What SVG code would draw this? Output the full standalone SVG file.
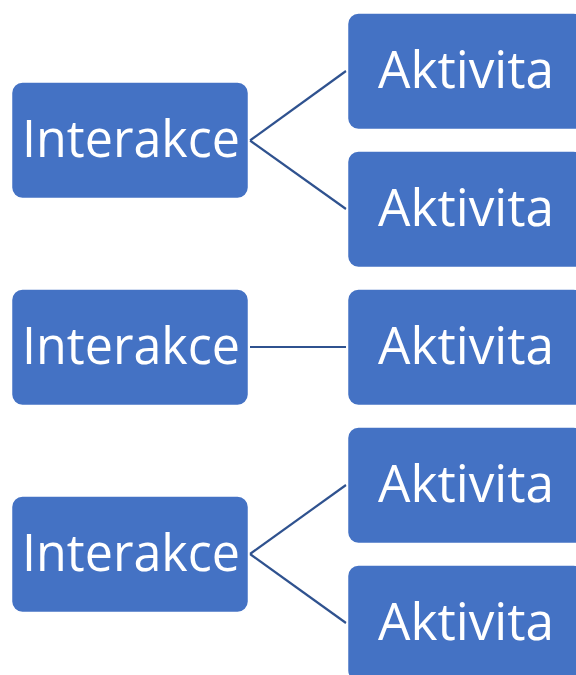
<svg xmlns="http://www.w3.org/2000/svg" width="576" height="675" viewBox="0 0 576 675">
<style>
.box{fill:#4472C4;stroke:#ffffff;stroke-width:1.5}
.t{font-family:"Open Sans","Liberation Sans",Arial,sans-serif;font-size:51px;fill:#ffffff;text-anchor:middle}
.c{stroke:#2F528F;stroke-width:2.2;fill:none}
</style>
<rect width="576" height="675" fill="#ffffff"/>
<g id="connectors">
<path class="c" d="M250 140.5 L346 71"/>
<path class="c" d="M250 140.5 L346 209"/>
<path class="c" d="M250 347 L346 347"/>
<path class="c" d="M250 554 L346 485"/>
<path class="c" d="M250 554 L346 623"/>
</g>
<g id="int1"><rect class="box" x="11.5" y="82" width="237" height="116.5" rx="11"/><text class="t" x="131" y="157" textLength="218" lengthAdjust="spacingAndGlyphs">Interakce</text></g>
<g id="int2"><rect class="box" x="11.5" y="289" width="237" height="116.5" rx="11"/><text class="t" x="131" y="364" textLength="218" lengthAdjust="spacingAndGlyphs">Interakce</text></g>
<g id="int3"><rect class="box" x="11.5" y="496" width="237" height="116.5" rx="11"/><text class="t" x="131" y="571" textLength="218" lengthAdjust="spacingAndGlyphs">Interakce</text></g>
<g id="akt1"><rect class="box" x="347.5" y="13" width="237" height="116.5" rx="11"/><text class="t" x="466" y="88" textLength="176" lengthAdjust="spacingAndGlyphs">Aktivita</text></g>
<g id="akt2"><rect class="box" x="347.5" y="151" width="237" height="116.5" rx="11"/><text class="t" x="466" y="226" textLength="176" lengthAdjust="spacingAndGlyphs">Aktivita</text></g>
<g id="akt3"><rect class="box" x="347.5" y="289" width="237" height="116.5" rx="11"/><text class="t" x="466" y="364" textLength="176" lengthAdjust="spacingAndGlyphs">Aktivita</text></g>
<g id="akt4"><rect class="box" x="347.5" y="427" width="237" height="116.5" rx="11"/><text class="t" x="466" y="502" textLength="176" lengthAdjust="spacingAndGlyphs">Aktivita</text></g>
<g id="akt5"><rect class="box" x="347.5" y="565" width="237" height="116.5" rx="11"/><text class="t" x="466" y="640" textLength="176" lengthAdjust="spacingAndGlyphs">Aktivita</text></g>
</svg>
